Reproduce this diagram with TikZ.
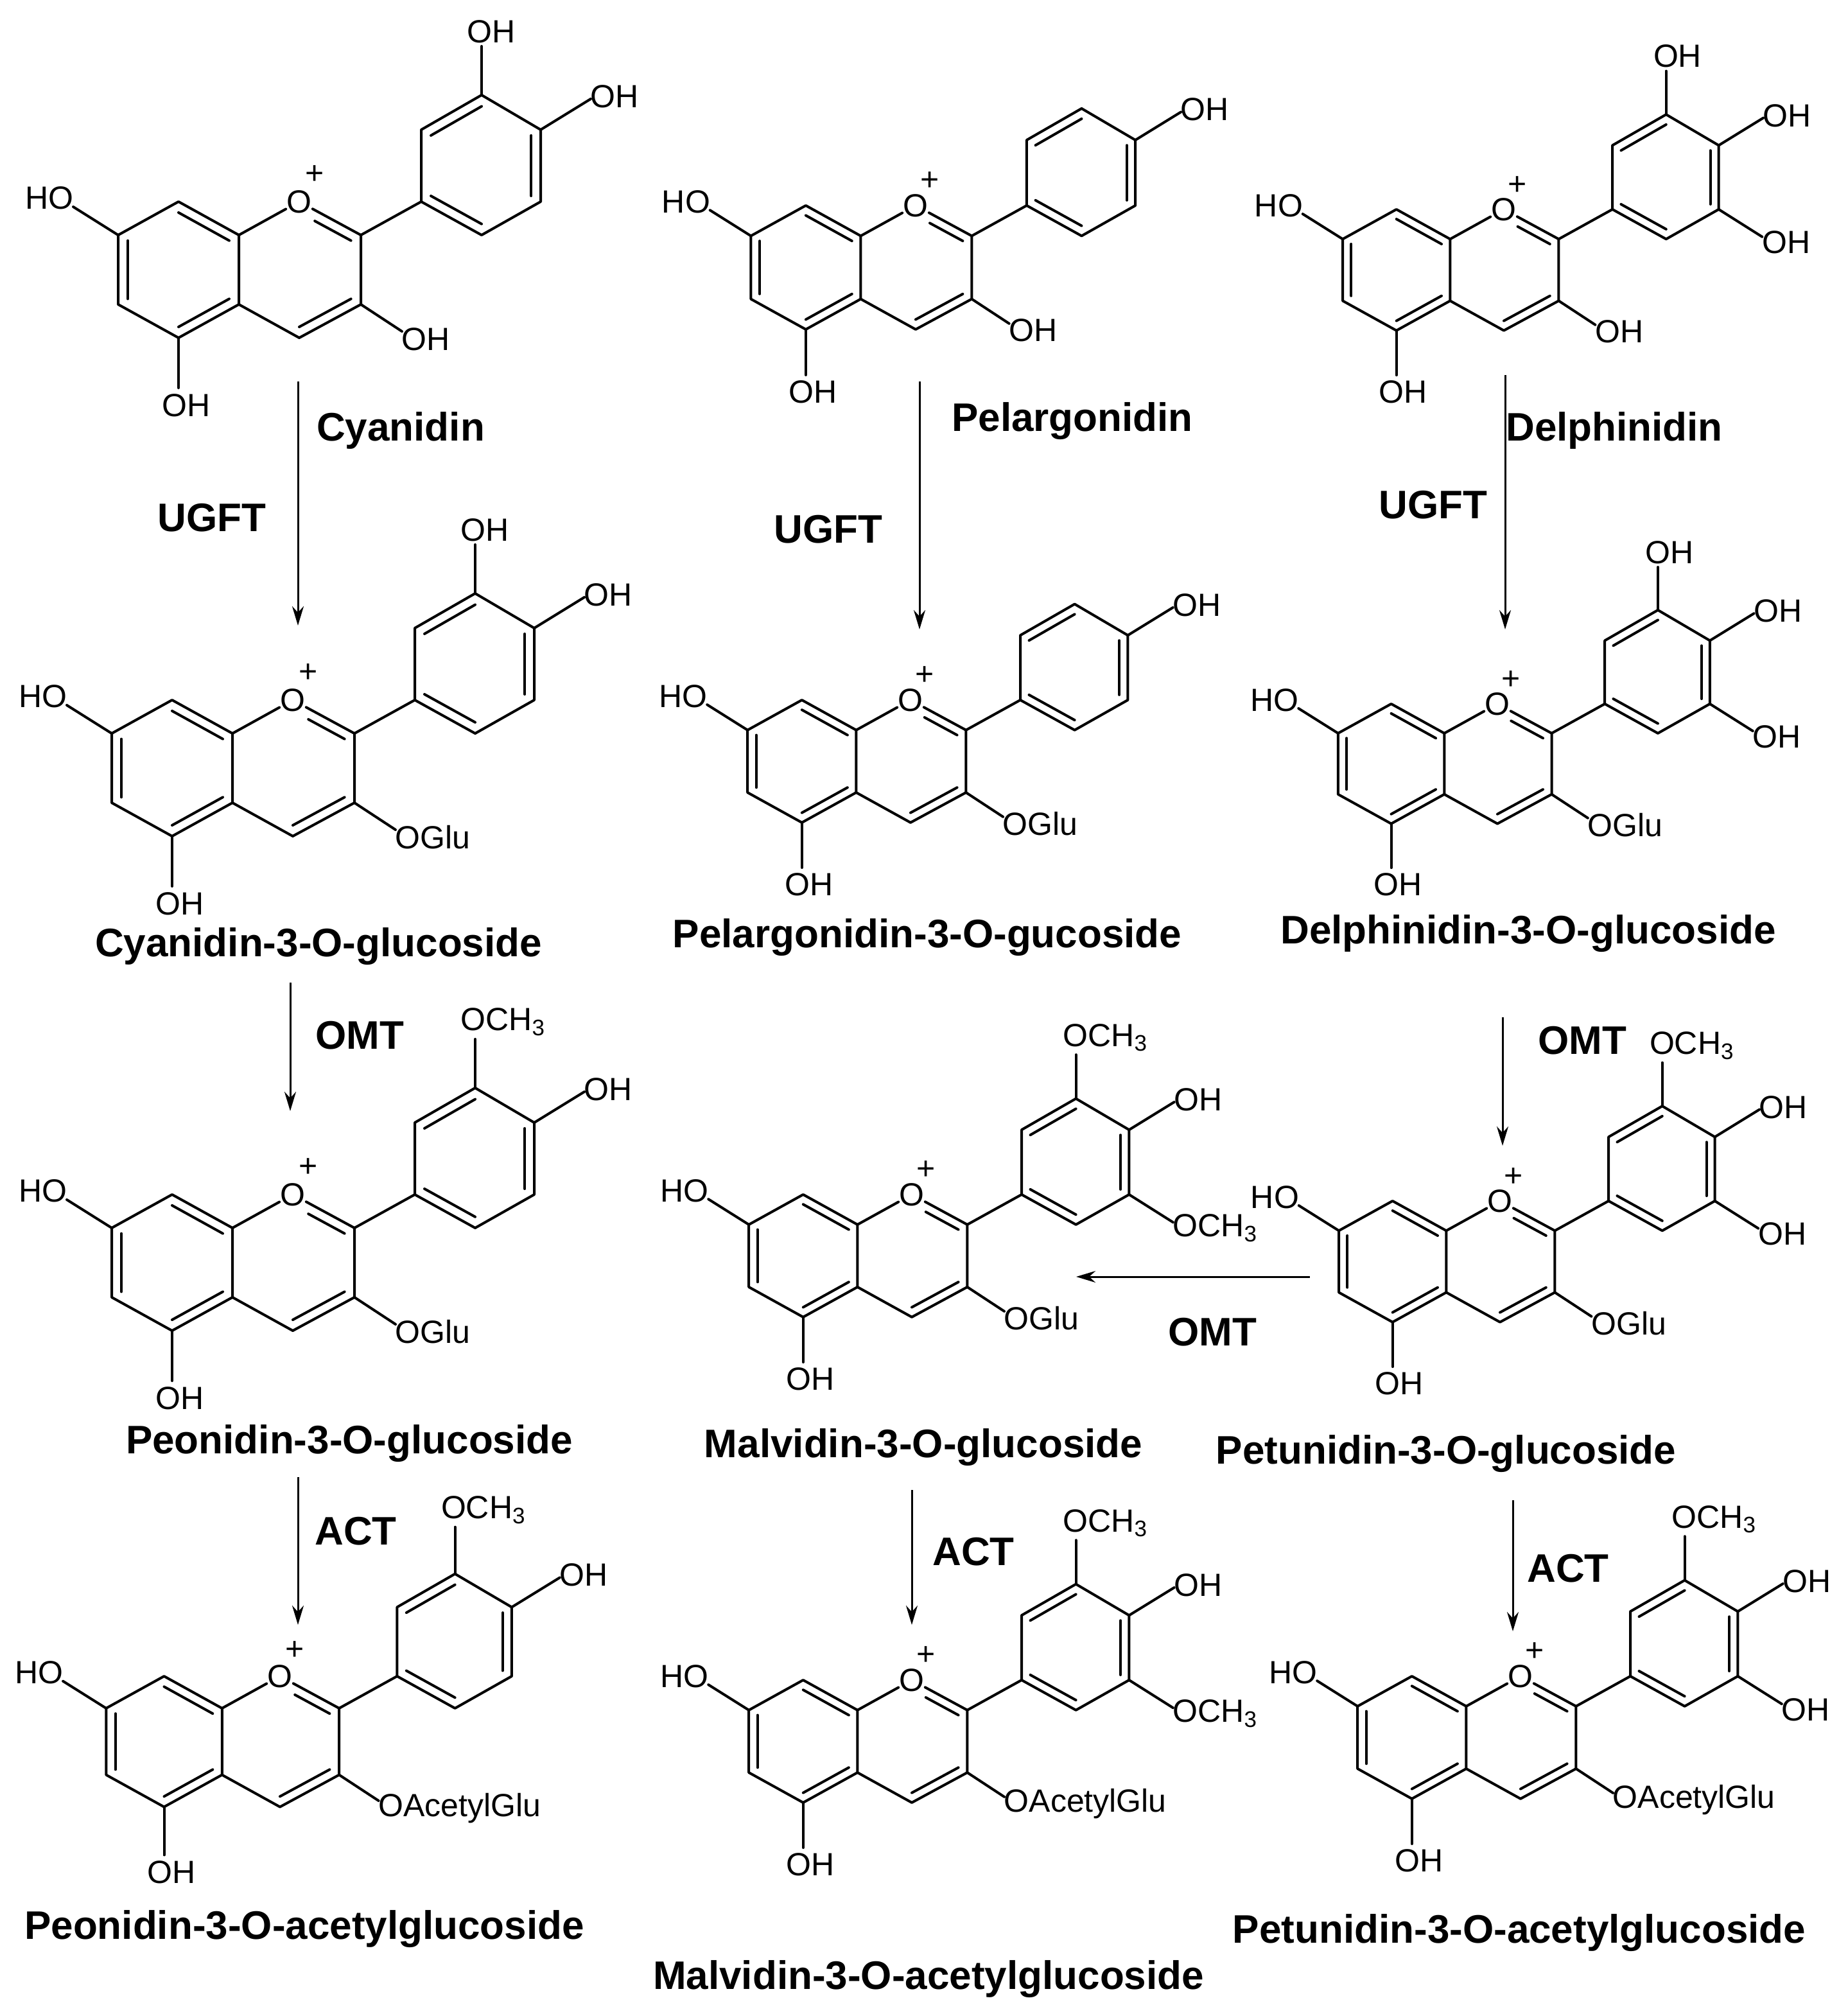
\documentclass[tikz,border=0pt]{standalone}
\usepackage{fontspec}
\setmainfont{Liberation Sans}
\usetikzlibrary{calc,arrows.meta}
\tikzset{
  bond/.style={line width=2pt,line cap=round,line join=round},
  sub/.style={font=\fontsize{25}{25}\selectfont,inner sep=1.5pt},
  lbl/.style={font=\fontsize{31}{31}\selectfont\bfseries,inner sep=0pt},
  rxn/.style={line width=1.5pt,-{Stealth[length=15pt,width=9pt]}}
}
\newcommand\dbl[3]{\draw[bond] ($(#1)!0.16!(#3)$) -- ($(#2)!0.16!(#3)$);}
% [#1 scale], #2 x, #3 y, #4 C3 substituent, #5 3' substituent, #6 5' substituent
\newcommand\mol[6][1]{%
\begin{scope}[shift={(#2,#3)},scale=#1]
\node[sub,inner sep=0.5pt] (O) at (0,0) {O};
\node[sub] (plus) at (12,-21) {+};
\coordinate (C2) at (48,26); \coordinate (C3) at (48,80);
\coordinate (C4) at (0,106); \coordinate (C4a) at (-47,80);
\coordinate (C8a) at (-47,26); \coordinate (C8) at (-94,0);
\coordinate (C7) at (-141,26); \coordinate (C6) at (-141,80);
\coordinate (C5) at (-94,106);
\coordinate (B1) at (95,0); \coordinate (B2) at (95,-56);
\coordinate (B3) at (142,-83); \coordinate (B4) at (188,-56);
\coordinate (B5) at (188,0); \coordinate (B6) at (142,26);
\coordinate (Ac) at (-94,53); \coordinate (Cc) at (0,53); \coordinate (Bc) at (142,-28);
\draw[bond] (O) -- (C2) -- (C3) -- (C4) -- (C4a) -- (C8a) -- (O);
\draw[bond] (C8a) -- (C8) -- (C7) -- (C6) -- (C5) -- (C4a);
\draw[bond] (C2) -- (B1) -- (B2) -- (B3) -- (B4) -- (B5) -- (B6) -- (B1);
\coordinate (OC) at ($(O)!0.3!(C2)$);
\dbl{OC}{C2}{Cc} \dbl{C3}{C4}{Cc}
\dbl{C8}{C8a}{Ac} \dbl{C7}{C6}{Ac} \dbl{C5}{C4a}{Ac}
\dbl{B2}{B3}{Bc} \dbl{B4}{B5}{Bc} \dbl{B6}{B1}{Bc}
\coordinate (t7) at (-176,4); \draw[bond] (C7) -- (t7);
\node[sub,anchor=east] (s7) at (-174,-3) {HO};
\coordinate (t5) at (-94,145); \draw[bond] (C5) -- (t5);
\node[sub,anchor=north] (s5) at (-88,148) {OH};
\coordinate (t3) at (80,101); \draw[bond] (C3) -- (t3);
\node[sub,anchor=west] (s3) at (78,107) {#4};
\coordinate (t4p) at (227,-80); \draw[bond] (B4) -- (t4p);
\node[sub,anchor=west] (s4p) at (225,-82) {OH};
\ifx\relax#5\relax\else
\coordinate (t3p) at (142,-121); \draw[bond] (B3) -- (t3p);
\node[sub,anchor=south west] (s3p) at (129,-122) {#5};
\fi
\ifx\relax#6\relax\else
\coordinate (t5p) at (226,24); \draw[bond] (B5) -- (t5p);
\node[sub,anchor=west] (s5p) at (224,29) {#6};
\fi
\end{scope}}
\newcommand\ome{OCH\textsubscript{3}}
\begin{document}
\begin{tikzpicture}[x=1pt,y=-1pt]
\useasboundingbox[fill=white] (0,0) rectangle (1438.5,1568);
% row 1
\mol{233}{157}{OH}{OH}{}
\mol[0.91]{713}{160}{OH}{}{}
\mol[0.89]{1171}{163}{OH}{OH}{OH}
% row 2
\mol{228}{545}{OGlu}{OH}{}
\mol[0.9]{709}{545}{OGlu}{}{}
\mol[0.88]{1166}{548}{OGlu}{OH}{OH}
% row 3
\mol{228}{930}{OGlu}{\ome}{}
\mol[0.9]{710}{930}{OGlu}{\ome}{\ome}
\mol[0.89]{1168}{935}{OGlu}{\ome}{OH}
% row 4
\mol[0.96]{218}{1305}{OAcetylGlu}{\ome}{}
\mol[0.9]{710}{1308}{OAcetylGlu}{\ome}{\ome}
\mol[0.9]{1184}{1305}{OAcetylGlu}{\ome}{OH}
% labels
\node[lbl] (L1) at (312,335) {Cyanidin};
\node[lbl] (L2) at (835,328) {Pelargonidin};
\node[lbl] (L3) at (1257,335) {Delphinidin};
\node[lbl] (L4) at (248,737) {Cyanidin-3-O-glucoside};
\node[lbl] (L5) at (722,730) {Pelargonidin-3-O-gucoside};
\node[lbl] (L6) at (1190,727) {Delphinidin-3-O-glucoside};
\node[lbl] (L7) at (272,1124) {Peonidin-3-O-glucoside};
\node[lbl] (L8) at (719,1127) {Malvidin-3-O-glucoside};
\node[lbl] (L9) at (1126,1132) {Petunidin-3-O-glucoside};
\node[lbl] (L10) at (237,1502) {Peonidin-3-O-acetylglucoside};
\node[lbl] (L11) at (723,1541) {Malvidin-3-O-acetylglucoside};
\node[lbl] (L12) at (1183,1505) {Petunidin-3-O-acetylglucoside};
% enzymes
\node[lbl] (E1) at (165,403) {UGFT};
\node[lbl] (E2) at (645,412) {UGFT};
\node[lbl] (E3) at (1116,393) {UGFT};
\node[lbl] (E4) at (280,806) {OMT};
\node[lbl] (E5) at (1232,810) {OMT};
\node[lbl] (E6) at (944,1037) {OMT};
\node[lbl] (E7) at (277,1192) {ACT};
\node[lbl] (E8) at (758,1208) {ACT};
\node[lbl] (E9) at (1221,1221) {ACT};
% arrows
\coordinate (a1s) at (232,297); \coordinate (a1e) at (232,487);
\coordinate (a2s) at (716,297); \coordinate (a2e) at (716,490);
\coordinate (a3s) at (1172,292); \coordinate (a3e) at (1172,490);
\coordinate (a4s) at (226,765); \coordinate (a4e) at (226,865);
\coordinate (a5s) at (1170,792); \coordinate (a5e) at (1170,892);
\coordinate (a6s) at (1020,994); \coordinate (a6e) at (838,994);
\coordinate (a7s) at (232,1150); \coordinate (a7e) at (232,1265);
\coordinate (a8s) at (710,1160); \coordinate (a8e) at (710,1265);
\coordinate (a9s) at (1178,1168); \coordinate (a9e) at (1178,1270);
\foreach \i in {1,...,9} {\draw[rxn] (a\i s) -- (a\i e);}
\end{tikzpicture}
\end{document}
